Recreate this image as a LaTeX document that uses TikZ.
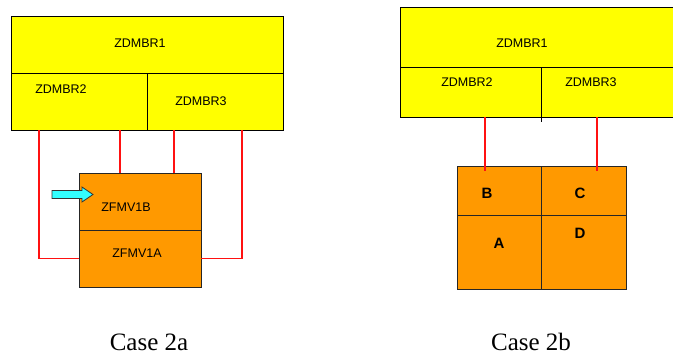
\documentclass[tikz,border=0pt]{standalone}
\usepackage{fontspec}
\setmainfont{Liberation Serif}
\setsansfont{Liberation Sans}
\usepackage{xcolor}
\usetikzlibrary{positioning}
\definecolor{mbryellow}{HTML}{FFFF00}
\definecolor{fmvorange}{HTML}{FF9900}
\definecolor{linkred}{HTML}{FF1111}
\definecolor{pointcyan}{HTML}{33FFFF}

\begin{document}
\begin{tikzpicture}[x=1pt, y=-1pt,
		ybox/.style={draw=black, fill=mbryellow, line width=1pt, inner sep=0pt, outer sep=0pt, anchor=north west},
		obox/.style={draw=black!85, fill=fmvorange, line width=1pt, inner sep=0pt, outer sep=0pt, anchor=north west},
		lbl/.style={font=\sffamily\fontsize{12.5}{14}\selectfont},
		letter/.style={font=\sffamily\bfseries\fontsize{15}{17}\selectfont},
		caption/.style={font=\fontsize{25}{27}\selectfont, inner sep=1pt},
		link/.style={draw=linkred, line width=1.4pt}]
		\useasboundingbox (0,0) rectangle (673,356);
		
		% Case 2a: define the nodes
		\node (mbr1a) [ybox, minimum width=272pt, minimum height=57pt] at (11,16) {};
		\node (mbr2a) [ybox, minimum width=136pt, minimum height=57pt] at (mbr1a.south west) {};
		\node (mbr3a) [ybox, minimum width=136pt, minimum height=57pt] at (mbr2a.north east) {};
		\node (fmvBa) [obox, minimum width=122pt, minimum height=57pt] at (79,173) {};
		\node (fmvAa) [obox, minimum width=122pt, minimum height=57pt] at (fmvBa.south west) {};
		
		\node (t1a) [lbl] at (140,43) {ZDMBR1};
		\node (t2a) [lbl] at (61,89) {ZDMBR2};
		\node (t3a) [lbl] at (201,101) {ZDMBR3};
		\node (tBa) [lbl] at (126,207) {ZFMV1B};
		\node (tAa) [lbl] at (137,253) {ZFMV1A};
		
		% Connect the nodes with lines
		\draw[link] ([xshift=28pt]mbr2a.south west) |- (fmvAa.west);
		\draw[link] ([xshift=109pt]mbr2a.south west) -- ([xshift=41pt]fmvBa.north west);
		\draw[link] ([xshift=27pt]mbr3a.south west) -- ([xshift=95pt]fmvBa.north west);
		\draw[link] ([xshift=95pt]mbr3a.south west) |- (fmvAa.east);
		
		% pointer into ZFMV1B
		\coordinate (tip) at (93,194.5);
		\draw[fill=pointcyan, draw=black!80, line width=0.8pt]
			(52,190.5) -- (82,190.5) -- (82,187) -- (tip) -- (82,202) -- (82,198.5) -- (52,198.5) -- cycle;
		
		% Case 2b: define the nodes
		\node (mbr1b) [ybox, minimum width=276pt, minimum height=60pt] at (400,7) {};
		\node (mbr2b) [ybox, minimum width=141pt, minimum height=50pt] at (mbr1b.south west) {};
		\node (mbr3b) [ybox, minimum width=135pt, minimum height=50pt] at (mbr2b.north east) {};
		\node (cellB) [obox, minimum width=84pt, minimum height=49pt] at (457,166) {};
		\node (cellC) [obox, minimum width=85pt, minimum height=49pt] at (cellB.north east) {};
		\node (cellA) [obox, minimum width=84pt, minimum height=74pt] at (cellB.south west) {};
		\node (cellD) [obox, minimum width=85pt, minimum height=74pt] at (cellA.north east) {};
		\draw[line width=1pt] (mbr3b.south west) -- ++(0,5);
		
		\node (t1b) [lbl] at (522,43) {ZDMBR1};
		\node (t2b) [lbl] at (467,82) {ZDMBR2};
		\node (t3b) [lbl] at (591,82) {ZDMBR3};
		\node (tB) [letter] at (487,193) {B};
		\node (tC) [letter] at (580,193) {C};
		\node (tA) [letter] at (499,243) {A};
		\node (tD) [letter] at (580,233) {D};
		
		% Connect the nodes with lines
		\draw[link] ([xshift=85pt]mbr2b.south west) -- ([xshift=28pt, yshift=-5pt]cellB.north west);
		\draw[link] ([xshift=56pt]mbr3b.south west) -- ([xshift=56pt, yshift=-5pt]cellC.north west);
		
		% captions
		\node (case2a) [caption] at (149,342) {Case 2a};
		\node (case2b) [caption] at (531,342) {Case 2b};
	\end{tikzpicture}
\end{document}
